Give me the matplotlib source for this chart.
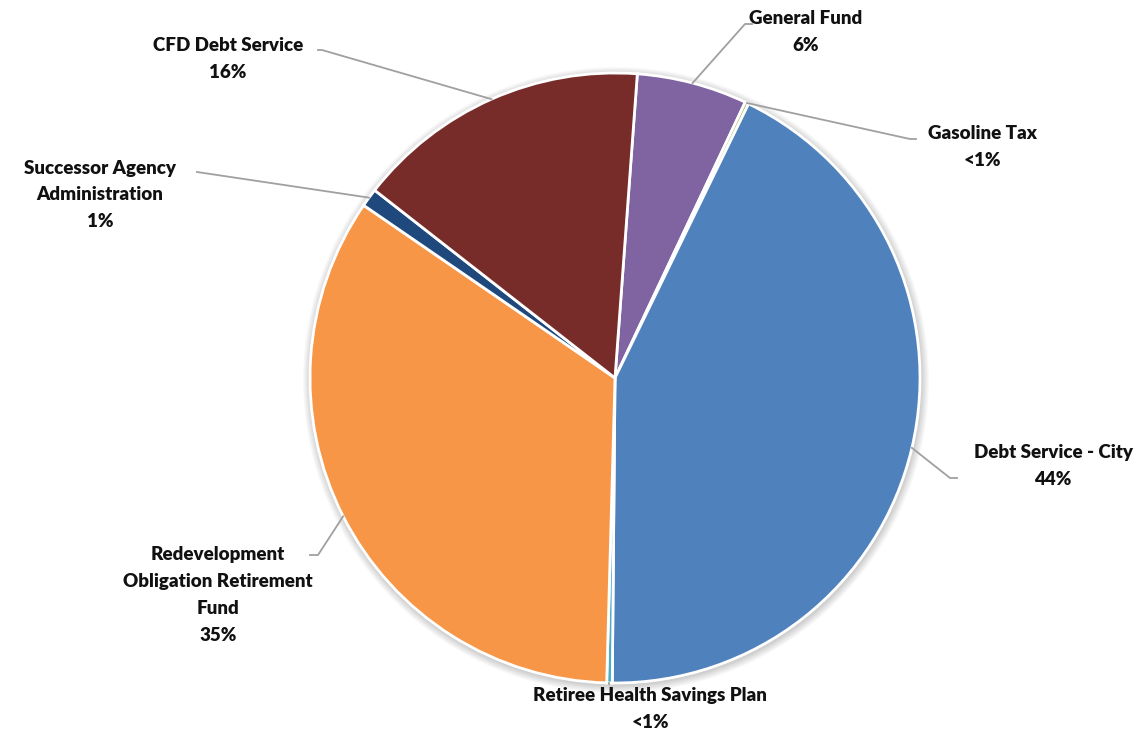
import numpy as np
import matplotlib.pyplot as plt

# Fondos: participación en el servicio de deuda
labels = ["General Fund", "Gasoline Tax", "Debt Service - City",
          "Retiree Health Savings Plan",
          "Redevelopment\nObligation Retirement\nFund",
          "Successor Agency\nAdministration", "CFD Debt Service"]
pct_text = ["6%", "<1%", "44%", "<1%", "35%", "1%", "16%"]
values = [6, 0.2, 44, 0.3, 35, 1, 16]
colors = ["#8064A2", "#9BBB59", "#4F81BD", "#4BACC6",
          "#F79646", "#1F497D", "#772C2A"]

# Posición de cada etiqueta (centro del bloque de texto) y codo de la línea guía
label_xy = [(806, 32), (982, 147), (1053, 466), (650, 709),
            (218, 595), (100, 195), (228, 59)]
elbow_xy = [[(745, 24), (752, 24)], [(910, 139), (916, 139)],
            [(950, 478), (957, 478)], None,
            [(318, 555), (310, 555)], [(197, 172)], [(322, 50), (318, 50)]]

W, H = 1147, 736
cx, cy, r = 615, 378, 305

fig = plt.figure(figsize=(W / 100, H / 100), dpi=100)
ax = fig.add_axes([0, 0, 1, 1])

# Sombra suave alrededor del pastel
for k in range(8):
    ax.add_patch(plt.Circle((cx + 1, cy + 2), r + 1 + k, color="#000000",
                            alpha=0.025, lw=0, zorder=0))

# El eje y está invertido, así que el giro "antihorario" de matplotlib
# aparece en sentido horario en pantalla
start = -90 + 4.2
wedges, _ = ax.pie(values, colors=colors, startangle=start, counterclock=True,
                   center=(cx, cy), radius=r, frame=True,
                   wedgeprops=dict(edgecolor="white", linewidth=2))
ax.set_xlim(0, W)
ax.set_ylim(H, 0)
ax.set_aspect("equal")
ax.axis("off")

for w, lab, pct, lxy, elb in zip(wedges, labels, pct_text, label_xy, elbow_xy):
    ang = np.deg2rad((w.theta1 + w.theta2) / 2)
    ax_pt = (cx + r * np.cos(ang), cy + r * np.sin(ang))
    if elb is None:
        # línea vertical corta hacia el texto de abajo
        elb = [(ax_pt[0], 684)]
    pts = [ax_pt] + elb
    ax.plot([p[0] for p in pts], [p[1] for p in pts], color="#A0A0A0",
            lw=1.3, zorder=5)
    ax.text(lxy[0], lxy[1], lab + "\n" + pct, ha="center", va="center",
            fontsize=13.5, fontweight="heavy", family="Lato",
            color="#111111", linespacing=1.7, zorder=6)

fig.savefig("out.png", dpi=100)
